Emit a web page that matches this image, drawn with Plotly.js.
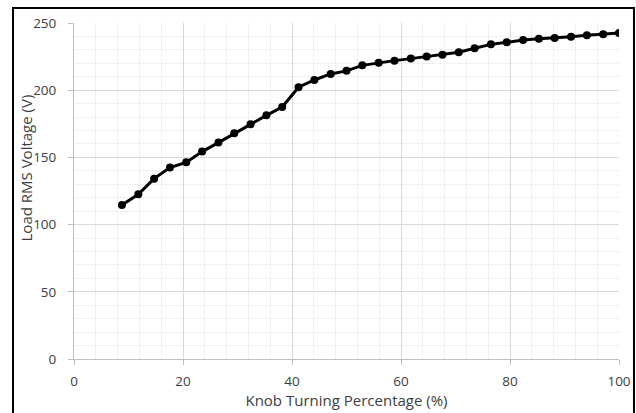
<!DOCTYPE html>
<html>
<head>
<meta charset="utf-8">
<script src="https://cdn.plot.ly/plotly-3.0.1.min.js"></script>
<style>
html,body{margin:0;padding:0;background:#fff;}
#chart{width:636px;height:413px;}
</style>
</head>
<body>
<div id="chart"></div>
<script>
var knobPercent = [8.8, 11.8, 14.7, 17.6, 20.6, 23.5, 26.5, 29.4, 32.4, 35.3, 38.2, 41.2, 44.1, 47.1, 50.0, 52.9,
                   55.9, 58.8, 61.8, 64.7, 67.6, 70.6, 73.5, 76.5, 79.4, 82.4, 85.3, 88.2, 91.2, 94.1, 97.1, 100];
var loadVoltage = [114.6, 122.5, 134.2, 142.4, 146.3, 154.3, 161.0, 167.9, 174.6, 181.3, 187.5, 202.2, 207.6, 212.1, 214.4, 218.5,
                   220.5, 222.0, 223.5, 225.0, 226.4, 228.2, 231.2, 234.1, 235.6, 237.4, 238.3, 238.8, 239.8, 240.8, 241.6, 242.6];
var xTicks = [0, 20, 40, 60, 80, 100];
var yTicks = [0, 50, 100, 150, 200, 250];
var xTitle = 'Knob Turning Percentage (%)';
var yTitle = 'Load RMS Voltage (V)';

var fontFam = 'Open Sans, Liberation Sans, sans-serif';

var trace = {
  x: knobPercent,
  y: loadVoltage,
  type: 'scatter',
  mode: 'lines+markers',
  line: {color: '#000000', width: 3},
  marker: {color: '#000000', size: 8},
  hoverinfo: 'skip',
  showlegend: false
};

var layout = {
  width: 636,
  height: 413,
  margin: {l: 74, r: 17, t: 23, b: 54},
  paper_bgcolor: '#ffffff',
  plot_bgcolor: '#ffffff',
  font: {family: fontFam, size: 13, color: '#404040'},
  xaxis: {
    range: [0, 100],
    tickvals: xTicks,
    ticktext: xTicks.map(String),
    showgrid: true,
    gridcolor: '#d9d9d9',
    gridwidth: 1,
    minor: {dtick: 4, showgrid: true, gridcolor: '#f0f0f0', gridwidth: 1},
    zeroline: false,
    showline: true,
    linecolor: '#bfbfbf',
    linewidth: 1,
    ticks: 'outside',
    ticklen: 5,
    tickcolor: '#bfbfbf',
    ticklabelstandoff: 5,
    tickfont: {family: fontFam, size: 13.5, color: '#404040'},
    title: {text: xTitle, font: {family: fontFam, size: 15, color: '#404040'}, standoff: 2},
    automargin: false,
    fixedrange: true
  },
  yaxis: {
    range: [0, 250],
    tickvals: yTicks,
    ticktext: yTicks.map(String),
    showgrid: true,
    gridcolor: '#d9d9d9',
    gridwidth: 1,
    minor: {dtick: 10, showgrid: true, gridcolor: '#f0f0f0', gridwidth: 1},
    zeroline: false,
    showline: true,
    linecolor: '#bfbfbf',
    linewidth: 1,
    ticks: 'outside',
    ticklen: 5,
    tickcolor: '#bfbfbf',
    ticklabelstandoff: 9,
    tickfont: {family: fontFam, size: 13.5, color: '#404040'},
    automargin: false,
    fixedrange: true
  },
  annotations: [{
    text: yTitle,
    xref: 'paper', yref: 'paper',
    x: -0.0881, y: 0.57,
    xanchor: 'center', yanchor: 'middle',
    textangle: -90,
    showarrow: false,
    font: {family: fontFam, size: 15, color: '#404040'}
  }],
  shapes: [{
    type: 'rect',
    xref: 'paper', yref: 'paper',
    x0: -0.1119, x1: 1.0275,
    y0: -0.2, y1: 1.0446,
    line: {color: '#000000', width: 2},
    fillcolor: 'rgba(0,0,0,0)',
    layer: 'above'
  }]
};

Plotly.newPlot('chart', [trace], layout, {displayModeBar: false, staticPlot: true});
</script>
</body>
</html>
